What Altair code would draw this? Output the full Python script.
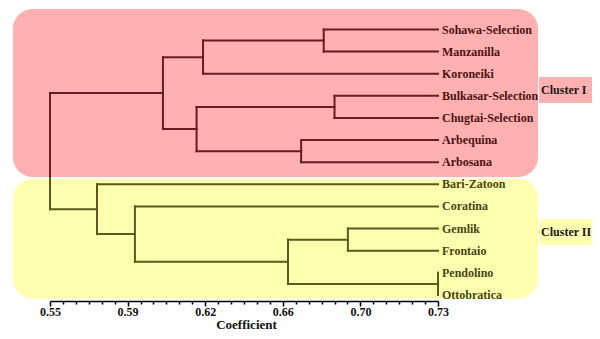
import altair as alt
import pandas as pd

# ---------------- data ----------------
leaves = ["Sohawa-Selection", "Manzanilla", "Koroneiki", "Bulkasar-Selection",
          "Chugtai-Selection", "Arbequina", "Arbosana", "Bari-Zatoon", "Coratina",
          "Gemlik", "Frontaio", "Pendolino", "Ottobratica"]
leaf_cluster = ["Cluster I"] * 7 + ["Cluster II"] * 6
leaf_coef = 0.73

merge_names = ["A", "B", "C", "D", "E", "F", "G", "H", "I", "J", "K", "root"]
merge_left = ["Sohawa-Selection", "A", "Bulkasar-Selection", "Arbequina", "C", "B",
              "Gemlik", "Pendolino", "G", "Coratina", "Bari-Zatoon", "F"]
merge_right = ["Manzanilla", "Koroneiki", "Chugtai-Selection", "Arbosana", "D", "E",
               "Frontaio", "Ottobratica", "H", "I", "J", "K"]
merge_coef = [0.677, 0.621, 0.682, 0.6665, 0.618, 0.6024,
              0.6882, 0.73, 0.6604, 0.5894, 0.5718, 0.55]

cluster_names = ["Cluster I", "Cluster II"]
tick_labels = ["0.55", "0.59", "0.62", "0.66", "0.70", "0.73"]
x_min, x_max = 0.55, 0.73

# ---------------- styles ----------------
line_colors = ["#6b1b1b", "#5a5a1c"]
text_colors = ["#4e1212", "#46460f"]
box_colors = ["#ffb0b0", "#ffffb0"]
FONT = "Liberation Serif"

# background boxes (coefficient / leaf-index units)
box_x = (0.5328, 0.7764)
box_y = [(-0.927, 6.668), (6.759, 12.16)]
tag_x = (0.7769, 0.81)
tag_y = [(2.147, 3.323), (8.567, 9.743)]
split_y = (box_y[0][1] + box_y[1][0]) / 2

# ---------------- tree layout ----------------
pos = {}
for i, (n, c) in enumerate(zip(leaves, leaf_cluster)):
    pos[n] = (leaf_coef, float(i), c)

segs = []
for n, l, r, h in zip(merge_names, merge_left, merge_right, merge_coef):
    hl, yl, cl = pos[l]
    hr, yr, cr = pos[r]
    if cl == cr:
        segs.append(dict(x=h, x2=h, y=yl, y2=yr, cluster=cl))
        c = cl
    else:
        segs.append(dict(x=h, x2=h, y=yl, y2=split_y, cluster=cl))
        segs.append(dict(x=h, x2=h, y=split_y, y2=yr, cluster=cr))
        c = "root"
    segs.append(dict(x=h, x2=hl, y=yl, y2=yl, cluster=cl))
    segs.append(dict(x=h, x2=hr, y=yr, y2=yr, cluster=cr))
    pos[n] = (h, (yl + yr) / 2, c)

seg_df = pd.DataFrame(segs)
leaf_df = pd.DataFrame({"name": leaves, "cluster": leaf_cluster,
                        "x": [leaf_coef] * len(leaves), "y": list(range(len(leaves)))})
box_df = pd.DataFrame({"cluster": cluster_names,
                       "x1": [box_x[0]] * 2, "x2": [box_x[1]] * 2,
                       "y1": [b[0] for b in box_y], "y2": [b[1] for b in box_y],
                       "fill": box_colors})
tag_df = pd.DataFrame({"cluster": cluster_names,
                       "x1": [tag_x[0]] * 2, "x2": [tag_x[1]] * 2,
                       "y1": [b[0] for b in tag_y], "y2": [b[1] for b in tag_y],
                       "ym": [(b[0] + b[1]) / 2 for b in tag_y],
                       "fill": box_colors})

# ---------------- scales / axis ----------------
n_minor = 30
step_minor = (x_max - x_min) / n_minor
step_major = step_minor * 6
tick_vals = [x_min + i * step_minor for i in range(n_minor + 1)]
is_major = f"round((datum.value-{x_min})/{step_minor}) % 6 == 0"
label_expr = (f"({is_major}) ? {tick_labels}[round((datum.value-{x_min})/{step_major})] : ''")

x_scale = alt.Scale(domain=[x_min, x_max], nice=False, zero=False)
y_scale = alt.Scale(domain=[-0.972, 12.274], reverse=True, nice=False, zero=False)

x_axis = alt.Axis(values=tick_vals, labelExpr=label_expr, labelOverlap=False,
                  labelFlush=False, grid=False, title="Coefficient",
                  domainColor="#000000", domainWidth=1.5, tickColor="#000000",
                  tickWidth=1.5,
                  tickSize={"condition": {"test": is_major, "value": 5}, "value": 3},
                  labelFont=FONT, labelFontWeight="bold", labelFontSize=12,
                  labelColor="#111111", labelPadding=0,
                  titleFont=FONT, titleFontWeight="bold", titleFontSize=13,
                  titleColor="#111111", titleX=196, titleY=27,
                  titleBaseline="alphabetic", titleAlign="center")

line_scale = alt.Scale(domain=cluster_names, range=line_colors)
text_scale = alt.Scale(domain=cluster_names, range=text_colors)

boxes = alt.Chart(box_df).mark_rect(cornerRadius=20).encode(
    x=alt.X("x1:Q", scale=x_scale, axis=x_axis), x2="x2",
    y=alt.Y("y1:Q", scale=y_scale, axis=None), y2="y2",
    color=alt.Color("fill:N", scale=None))

tags = alt.Chart(tag_df).mark_rect().encode(
    x=alt.X("x1:Q", scale=x_scale, axis=x_axis), x2="x2",
    y=alt.Y("y1:Q", scale=y_scale, axis=None), y2="y2",
    color=alt.Color("fill:N", scale=None))

tag_text = alt.Chart(tag_df).mark_text(
    align="left", baseline="middle", dx=2, font=FONT, fontWeight="bold",
    fontSize=12, color="#1a1a1a").encode(
    x=alt.X("x1:Q", scale=x_scale, axis=x_axis),
    y=alt.Y("ym:Q", scale=y_scale, axis=None), text="cluster:N")

lines = alt.Chart(seg_df).mark_rule(strokeWidth=2, strokeCap="square").encode(
    x=alt.X("x:Q", scale=x_scale, axis=x_axis), x2="x2",
    y=alt.Y("y:Q", scale=y_scale, axis=None), y2="y2",
    color=alt.Color("cluster:N", scale=line_scale, legend=None))

labels = alt.Chart(leaf_df).mark_text(
    align="left", baseline="middle", dx=4, font=FONT, fontWeight="bold",
    fontSize=12).encode(
    x=alt.X("x:Q", scale=x_scale, axis=x_axis),
    y=alt.Y("y:Q", scale=y_scale, axis=None), text="name:N",
    color=alt.Color("cluster:N", scale=text_scale, legend=None))

chart = alt.layer(boxes, tags, tag_text, lines, labels).resolve_scale(
    color="independent").properties(
    width=388, height=293,
    autosize=alt.AutoSizeParams(type="none"),
    padding={"left": 42, "top": 0, "right": 154, "bottom": 30},
).configure_view(stroke=None)

chart.save("out.html", embed_options={"renderer": "svg", "actions": False})
